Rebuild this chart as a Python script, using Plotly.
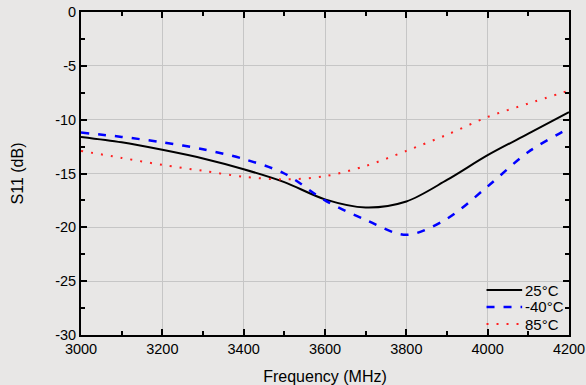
import plotly.graph_objects as go

freq = [3000, 3100, 3200, 3300, 3400, 3500, 3600, 3700, 3800, 3900, 4000, 4100, 4200]
s11_25c = [-11.6, -12.1, -12.8, -13.6, -14.6, -15.8, -17.4, -18.15, -17.6, -15.6, -13.3, -11.3, -9.3]
s11_m40c = [-11.2, -11.6, -12.1, -12.75, -13.65, -15.0, -17.5, -19.3, -20.7, -19.2, -16.2, -13.0, -10.8]
s11_85c = [-12.9, -13.55, -14.2, -14.75, -15.3, -15.55, -15.25, -14.3, -12.9, -11.4, -9.75, -8.5, -7.3]

series_names = ["25°C", "-40°C", "85°C"]

x_ticks = [3000, 3200, 3400, 3600, 3800, 4000, 4200]
x_labels = ["3000", "3200", "3400", "3600", "3800", "4000", "4200"]
y_ticks = [-30, -25, -20, -15, -10, -5, 0]
y_labels = ["-30", "-25", "-20", "-15", "-10", "-5", "0"]

BG = "#e8e7e6"
FONT = "Arial, Liberation Sans, sans-serif"

styles = [
    dict(color="black", width=2),
    dict(color="#0000ff", width=2.5, dash="8px,9px"),
    dict(color="#ff2020", width=2, dash="2px,8px"),
]

fig = go.Figure()
for name, ys, st in zip(series_names, [s11_25c, s11_m40c, s11_85c], styles):
    fig.add_trace(go.Scatter(x=freq, y=ys, name=name, mode="lines", showlegend=False,
                             line=dict(shape="spline", smoothing=0.9, **st)))

axis_common = dict(
    showline=True, linecolor="black", linewidth=2, mirror="allticks",
    ticks="inside", ticklen=6, tickwidth=2, tickcolor="black",
    showgrid=True, gridcolor="#c6c6c6", gridwidth=1, zeroline=False,
    automargin=False,
    tickfont=dict(family=FONT, size=14.5, color="black"),
)

fig.update_xaxes(
    range=[3000, 4200], tickvals=x_ticks, ticktext=x_labels,
    minor=dict(dtick=100, ticklen=4, tickwidth=2, tickcolor="black", ticks="inside", showgrid=False),
    title=dict(text="Frequency (MHz)", font=dict(family=FONT, size=16, color="black"), standoff=16),
    **axis_common,
)
fig.update_yaxes(
    range=[-30, 0], tickvals=y_ticks, ticktext=y_labels,
    minor=dict(dtick=2.5, ticklen=4, tickwidth=2, tickcolor="black", ticks="inside", showgrid=False),
    title=dict(text="S11 (dB)", font=dict(family=FONT, size=16, color="black"), standoff=28),
    **axis_common,
)

# manual legend (compact rows, like the reference)
leg_rows = [0.139, 0.0867, 0.034]
for name, st, yy in zip(series_names, styles, leg_rows):
    fig.add_shape(type="line", xref="paper", yref="paper", x0=0.831, x1=0.904, y0=yy, y1=yy,
                  line=st)
    fig.add_annotation(xref="paper", yref="paper", x=0.906, y=yy, text=name, showarrow=False,
                       xanchor="left", yanchor="middle",
                       font=dict(family=FONT, size=15, color="black"))

fig.update_layout(
    width=586, height=385,
    margin=dict(l=81, r=17, t=12, b=50),
    paper_bgcolor=BG, plot_bgcolor=BG,
    font=dict(family=FONT, size=14, color="black"),
    showlegend=False,
)

fig.write_html("out.html")
